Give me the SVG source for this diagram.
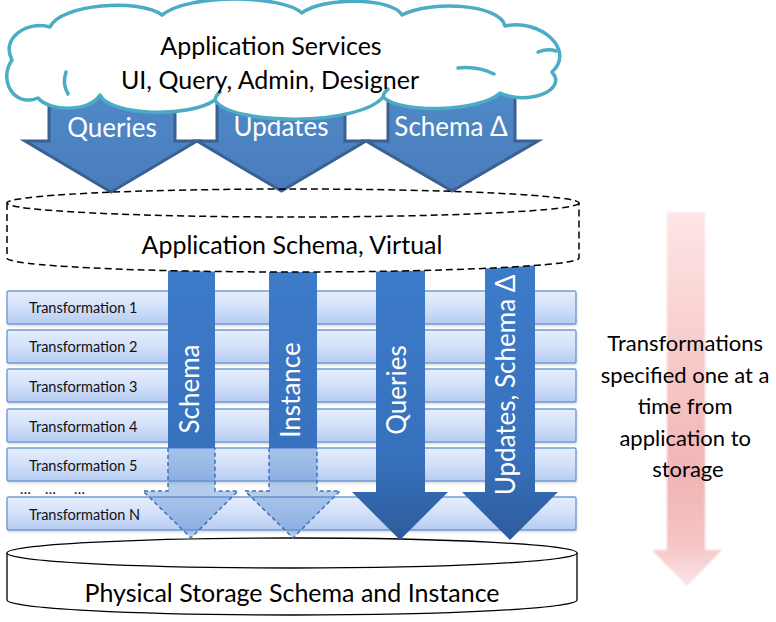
<svg xmlns="http://www.w3.org/2000/svg" width="776" height="622" viewBox="0 0 776 622">
  <style>
    .lbl { font-family: Lato, "Open Sans", "DejaVu Sans", sans-serif; }
    .big { font-size: 25px; fill: #000; }
    .arrowtxt { font-size: 26px; fill: #fff; }
    .bartxt { font-size: 14.5px; fill: #111; }
    .side { font-size: 22px; fill: #000; }
    .bar { fill: url(#barFill); stroke: #729ad8; stroke-width: 1.4; }
    .barShadow { fill: #8a8a8a; opacity: 0.35; }
    .topArrow { fill: url(#topArrowFill); stroke: #3b6193; stroke-width: 3; stroke-linejoin: miter; }
    .vArrow { fill: url(#vArrowFill); }
    .ghost { fill: #4f86cc; fill-opacity: 0.42; }
    .ghostEdge { fill: none; stroke: #3f72b8; stroke-width: 1.5; stroke-dasharray: 4 3; }
    .dash { fill: none; stroke: #000; stroke-width: 1.5; stroke-dasharray: 7 4; }
    .solid { fill: none; stroke: #000; stroke-width: 1.3; }
  </style>
  <defs>
    <linearGradient id="barFill" x1="0" y1="0" x2="0" y2="1">
      <stop offset="0" stop-color="#e6eefd"/>
      <stop offset="0.5" stop-color="#d2e0f9"/>
      <stop offset="1" stop-color="#b6ccf3"/>
    </linearGradient>
    <linearGradient id="topArrowFill" x1="0" y1="0" x2="0" y2="1">
      <stop offset="0" stop-color="#4f89c7"/>
      <stop offset="1" stop-color="#4a7cbc"/>
    </linearGradient>
    <linearGradient id="vArrowFill" gradientUnits="userSpaceOnUse" x1="0" y1="260" x2="0" y2="540">
      <stop offset="0" stop-color="#3d7cca"/>
      <stop offset="0.7" stop-color="#3771bd"/>
      <stop offset="1" stop-color="#2d5c9c"/>
    </linearGradient>
    <linearGradient id="pinkFill" gradientUnits="userSpaceOnUse" x1="0" y1="212" x2="0" y2="588">
      <stop offset="0" stop-color="#fde6e6"/>
      <stop offset="0.3" stop-color="#f9d0d0"/>
      <stop offset="0.7" stop-color="#f2b4b4"/>
      <stop offset="0.88" stop-color="#f5c4c4"/>
      <stop offset="1" stop-color="#fce6e6"/>
    </linearGradient>
    <filter id="soft" x="-20%" y="-5%" width="140%" height="110%">
      <feGaussianBlur stdDeviation="1.2"/>
    </filter>
    <filter id="shadowBlur" x="-5%" y="-50%" width="110%" height="200%">
      <feGaussianBlur stdDeviation="1.5"/>
    </filter>
  </defs>

  <rect width="776" height="622" fill="#fff"/>

  <!-- storage cylinder -->
  <g id="physical-storage">
    <path d="M7,553 V600 A285,15 0 0 0 577,600 V553 Z" fill="#fff"/>
    <ellipse cx="292" cy="553" rx="285" ry="15" fill="#fff" class="solid"/>
    <path d="M7,553 V600 A285,15 0 0 0 577,600 V553" class="solid"/>
    <text class="lbl big" x="292" y="602" text-anchor="middle">Physical Storage Schema and Instance</text>
  </g>

  <!-- transformation layers -->
  <g id="transformation-layers">
    <g filter="url(#shadowBlur)">
      <rect class="barShadow" x="8" y="293" width="569" height="33"/>
      <rect class="barShadow" x="8" y="332" width="569" height="33"/>
      <rect class="barShadow" x="8" y="371" width="569" height="33"/>
      <rect class="barShadow" x="8" y="411" width="569" height="33"/>
      <rect class="barShadow" x="8" y="450" width="569" height="33"/>
      <rect class="barShadow" x="8" y="499" width="569" height="33"/>
    </g>
    <g id="transformation-1"><rect class="bar" x="7" y="291" width="569" height="33" rx="1.5"/><text class="lbl bartxt" x="29" y="313">Transformation 1</text></g>
    <g id="transformation-2"><rect class="bar" x="7" y="330" width="569" height="33" rx="1.5"/><text class="lbl bartxt" x="29" y="352">Transformation 2</text></g>
    <g id="transformation-3"><rect class="bar" x="7" y="369" width="569" height="33" rx="1.5"/><text class="lbl bartxt" x="29" y="392">Transformation 3</text></g>
    <g id="transformation-4"><rect class="bar" x="7" y="409" width="569" height="33" rx="1.5"/><text class="lbl bartxt" x="29" y="432">Transformation 4</text></g>
    <g id="transformation-5"><rect class="bar" x="7" y="448" width="569" height="33" rx="1.5"/><text class="lbl bartxt" x="29" y="471">Transformation 5</text></g>
    <g id="transformation-ellipsis">
      <text class="lbl bartxt" y="494"><tspan x="20">…</tspan><tspan x="45">…</tspan><tspan x="74">…</tspan></text>
    </g>
    <g id="transformation-n"><rect class="bar" x="7" y="497" width="569" height="33" rx="1.5"/><text class="lbl bartxt" x="29" y="520">Transformation N</text></g>
  </g>

  <!-- flows between layers -->
  <g id="connectors">
    <!-- schema flow: solid through the upper layers, faint below -->
    <g id="flow-schema">
      <rect class="vArrow" x="168" y="255" width="47" height="193"/>
      <path class="ghost" d="M168,448 V491 H143 L191,538 L238,491 H215 V448 Z"/>
      <path class="ghostEdge" d="M168,448 V491 H143 L191,538 L238,491 H215 V448"/>
      <text class="lbl arrowtxt" transform="translate(199,389) rotate(-90)" text-anchor="middle">Schema</text>
    </g>
    <g id="flow-instance">
      <rect class="vArrow" x="269" y="255" width="48" height="193"/>
      <path class="ghost" d="M269,448 V491 H245 L293,538 L340,491 H317 V448 Z"/>
      <path class="ghostEdge" d="M269,448 V491 H245 L293,538 L340,491 H317 V448"/>
      <text class="lbl arrowtxt" transform="translate(300,390) rotate(-90)" text-anchor="middle">Instance</text>
    </g>
    <g id="flow-queries">
      <path class="vArrow" d="M376,255 H425 V492 H448 L400,540 L352,492 H376 Z"/>
      <text class="lbl arrowtxt" transform="translate(406,390) rotate(-90)" text-anchor="middle">Queries</text>
    </g>
    <g id="flow-updates">
      <path class="vArrow" d="M485,255 H535 V492 H558 L510,540 L462,492 H485 Z"/>
      <text class="lbl arrowtxt" transform="translate(515,385) rotate(-90)" text-anchor="middle">Updates, Schema Δ</text>
    </g>

    <!-- requests from the application services -->
    <g id="request-queries">
      <path class="topArrow" d="M49,93 H175 V141 H197 L111,192 L25,141 H49 Z"/>
      <text class="lbl arrowtxt" x="112" y="137" text-anchor="middle">Queries</text>
    </g>
    <g id="request-updates">
      <path class="topArrow" d="M217,93 H345 V141 H366 L281.5,191 L197,141 H217 Z"/>
      <text class="lbl arrowtxt" x="281" y="136" text-anchor="middle">Updates</text>
    </g>
    <g id="request-schema">
      <path class="topArrow" d="M388,93 H515 V141 H538 L452,191 L366,141 H388 Z"/>
      <text class="lbl arrowtxt" x="451" y="136" text-anchor="middle">Schema Δ</text>
    </g>

    <!-- direction hint -->
    <g id="direction-arrow" filter="url(#soft)">
      <path d="M667,212 H705 V550 H722 L687,586 L652,550 H667 Z" fill="url(#pinkFill)"/>
    </g>
  </g>

  <!-- virtual application schema (dashed cylinder) -->
  <g id="application-schema">
    <path d="M7,238 V258 A286,14 0 0 0 579,258 V238 Z" fill="#fff"/>
    <ellipse cx="293" cy="203" rx="286" ry="14" class="dash"/>
    <path d="M7,203 V258 A286,14 0 0 0 579,258 V203" class="dash"/>
    <text class="lbl big" x="292" y="254" text-anchor="middle">Application Schema, Virtual</text>
  </g>

  <!-- application services cloud -->
  <g id="application-services">
    <path d="M38,98 C14,108 -2,80 12,60 C0,38 28,20 50,27 C60,4 140,-2 162,15 C190,-7 282,-5 302,13 C322,-3 392,-3 402,15 C432,0 500,4 505,26 C540,18 576,50 552,72 C568,90 528,106 500,93 C480,112 400,114 383,97 C360,126 230,126 215,100 C190,118 110,116 100,95 C90,112 50,112 38,98 Z"
          fill="#fff" stroke="#4bacc6" stroke-width="3.5" stroke-linejoin="round"/>
    <g fill="none" stroke="#4bacc6" stroke-width="3.5" stroke-linecap="round">
      <path d="M66,72 Q62,84 68,94"/>
      <path d="M458,68 Q478,66 494,74"/>
      <path d="M538,52 Q548,48 556,51"/>
      <path d="M383,97 Q384,92 388,89"/>
      <path d="M215,100 Q216,95 220,92"/>
    </g>
    <text class="lbl big" x="271" y="55" text-anchor="middle">Application Services</text>
    <text class="lbl big" x="270" y="89" text-anchor="middle">UI, Query, Admin, Designer</text>
  </g>

  <!-- note beside the direction arrow -->
  <g id="direction-note">
    <text class="lbl side" text-anchor="middle">
      <tspan x="688" y="351">Transformations</tspan>
      <tspan x="688" y="383">specified one at a</tspan>
      <tspan x="688" y="414">time from</tspan>
      <tspan x="688" y="446">application to</tspan>
      <tspan x="688" y="477">storage</tspan>
    </text>
  </g>
</svg>
